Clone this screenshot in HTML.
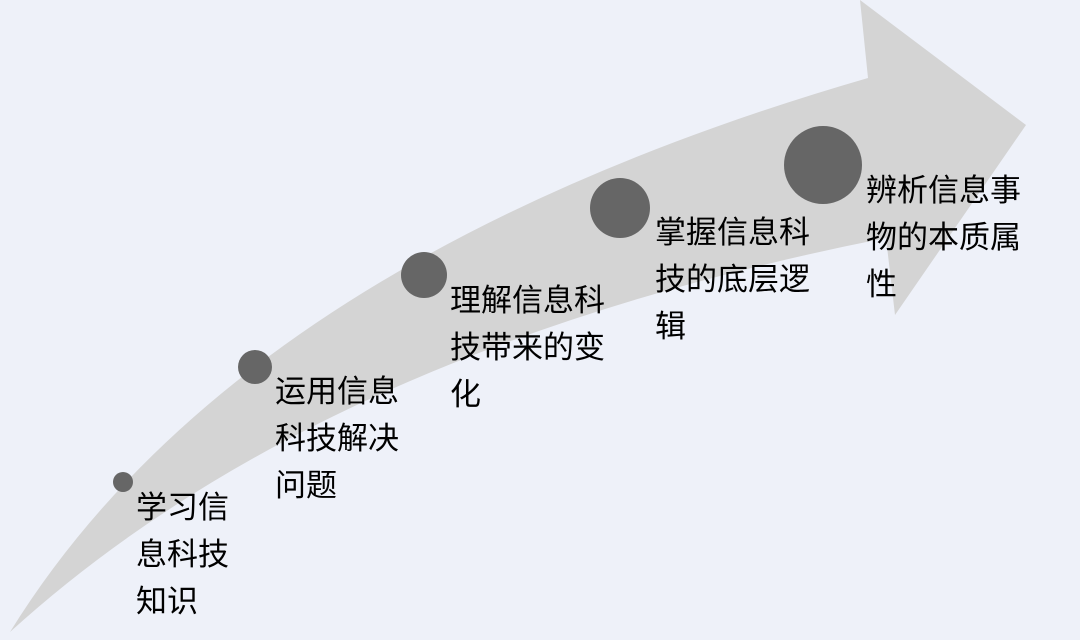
<!DOCTYPE html>
<html><head><meta charset="utf-8"><style>
body{margin:0;width:1080px;height:640px;background:#eef1f9;overflow:hidden;position:relative;font-family:"Liberation Sans","Noto Sans CJK SC",sans-serif;}
.t{position:absolute;font-size:31px;line-height:47px;color:#000;white-space:nowrap;}
</style></head><body>
<svg width="1080" height="640" style="position:absolute;left:0;top:0">
<path d="M10,632 Q240,260 868,78 L860,0 L1026,125 L895,315 L886,238 Q320,350 10,632 Z" fill="#d4d4d4"/>
<g fill="#666">
<circle cx="123" cy="482" r="10"/>
<circle cx="255" cy="367" r="17"/>
<circle cx="424" cy="275" r="23"/>
<circle cx="620" cy="208" r="30"/>
<circle cx="823" cy="165" r="39"/>
</g>
</svg>
<div class="t" style="left:136px;top:484px">学习信<br>息科技<br>知识</div>
<div class="t" style="left:275px;top:368px">运用信息<br>科技解决<br>问题</div>
<div class="t" style="left:450px;top:277px">理解信息科<br>技带来的变<br>化</div>
<div class="t" style="left:655px;top:209px">掌握信息科<br>技的底层逻<br>辑</div>
<div class="t" style="left:866px;top:167px">辨析信息事<br>物的本质属<br>性</div>
</body></html>
